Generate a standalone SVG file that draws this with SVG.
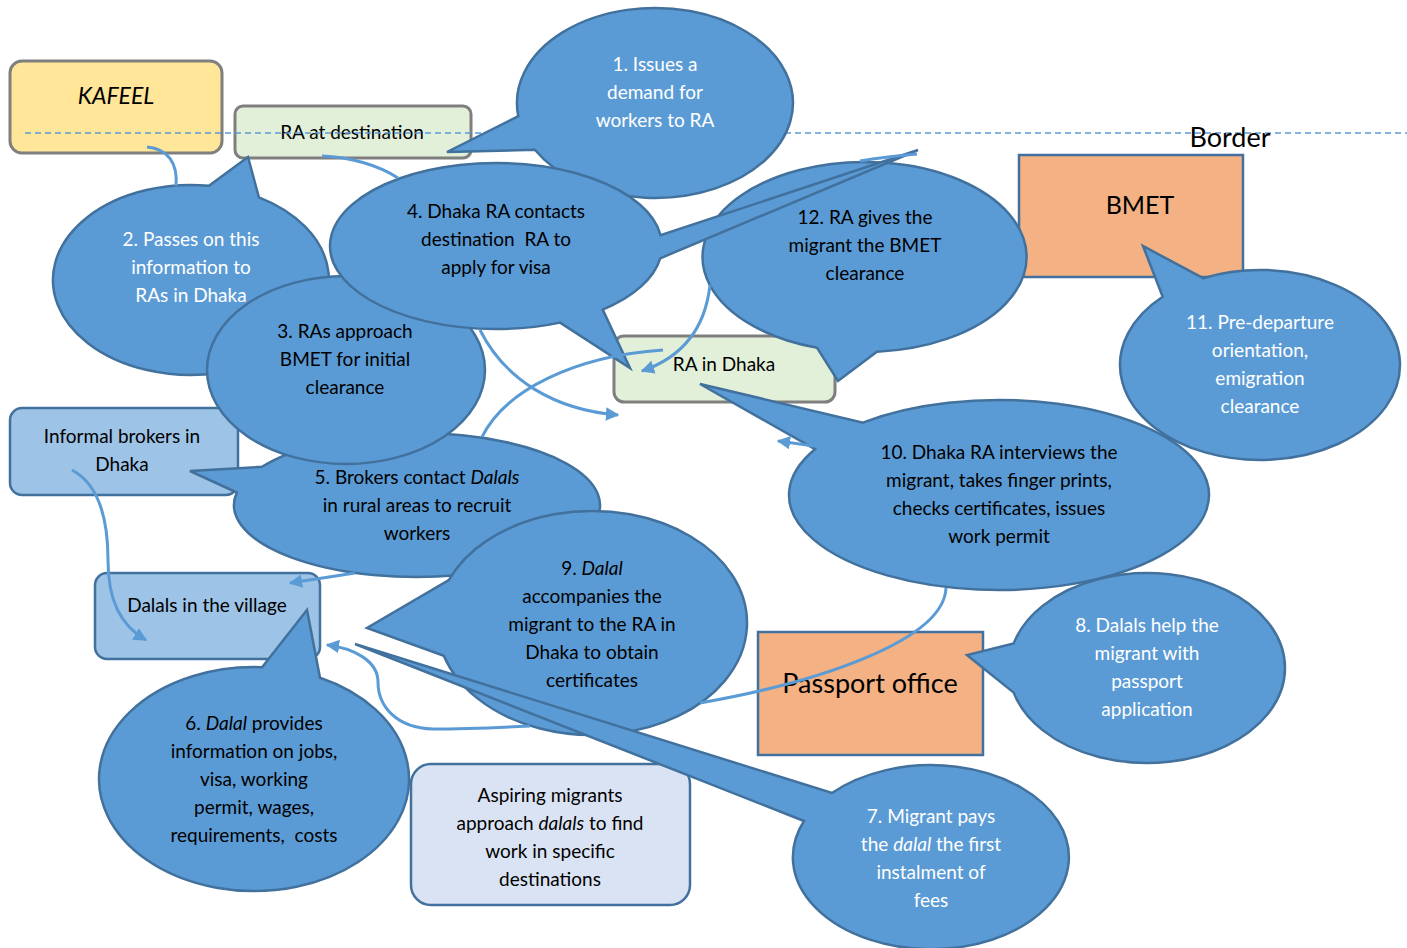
<svg xmlns="http://www.w3.org/2000/svg" width="1407" height="948" viewBox="0 0 1407 948">
<defs>
<style>
.t{font-family:Lato,"Open Sans","Liberation Sans",sans-serif;font-size:19px;text-anchor:middle;fill:#000}
.w{fill:#fff}
.bub{fill:#5b9bd5;stroke:#41719c;stroke-width:2.5;stroke-linejoin:miter}
.gbox{stroke:#7f7f7f;stroke-width:3}
.bbox{stroke:#41719c;stroke-width:2.5}
.con{fill:none;stroke:#5b9bd5;stroke-width:3}
</style>
<marker id="arr" viewBox="0 0 10 10" refX="9" refY="5" markerWidth="4.5" markerHeight="4.5" orient="auto" markerUnits="strokeWidth"><path d="M0,0 L10,5 L0,10 z" fill="#5b9bd5"/></marker>
</defs>
<rect width="1407" height="948" fill="#fff"/>

<g id="kafeel"><rect class="gbox" x="10" y="61" width="212" height="92" rx="12" fill="#ffe699"/><text class="t" x="116" y="104" style="font-size:23px;font-style:italic">KAFEEL</text></g>
<g id="ra-destination"><rect class="gbox" x="235" y="106" width="236" height="52" rx="8" fill="#e2f0d9"/><text class="t" x="352" y="139">RA at destination</text></g>

<g id="border"><line x1="25" y1="133" x2="1407" y2="133" stroke="#5b9bd5" stroke-width="1.5" stroke-dasharray="6,4"/><text class="t" x="1230" y="147" style="font-size:27px">Border</text></g>

<g id="bmet"><rect class="bbox" x="1019" y="155" width="224" height="122" fill="#f4b183"/><text class="t" x="1140" y="214" style="font-size:25px">BMET</text></g>
<g id="passport-office"><rect class="bbox" x="758" y="632" width="225" height="123" fill="#f4b183"/><text class="t" x="870" y="693" style="font-size:27px">Passport office</text></g>
<g id="informal-brokers"><rect class="bbox" x="10" y="408" width="228" height="87" rx="12" fill="#9dc3e6"/><text class="t" x="122" y="443">Informal brokers in</text><text class="t" x="122" y="471">Dhaka</text></g>
<g id="dalals-village"><rect class="bbox" x="95" y="573" width="225" height="86" rx="12" fill="#9dc3e6"/><text class="t" x="207" y="612">Dalals in the village</text></g>
<g id="aspiring"><rect class="bbox" x="411" y="764" width="279" height="141" rx="20" fill="#dae3f3"/><text class="t" x="550" y="802">Aspiring migrants</text><text class="t" x="550" y="830">approach <tspan font-style="italic">dalals</tspan> to find</text><text class="t" x="550" y="858">work in specific</text><text class="t" x="550" y="886">destinations</text></g>
<g id="ra-dhaka"><rect class="gbox" x="614" y="336" width="221" height="66" rx="10" fill="#e2f0d9"/><text class="t" x="724" y="371">RA in Dhaka</text></g>

<g id="step5"><path class="bub" d="M236.8,492.5 L190,471 L262,466.8 A183 72 0 1 1 236.8,492.5 Z"/><text class="t" x="417" y="484">5. Brokers contact <tspan font-style="italic">Dalals</tspan></text><text class="t" x="417" y="512">in rural areas to recruit</text><text class="t" x="417" y="540">workers</text></g>
<g id="step2"><path class="bub" d="M209,185.8 L248,157 L258.9,197.3 A138 95 0 1 1 209,185.8 Z"/><text class="t w" x="191" y="246">2. Passes on this</text><text class="t w" x="191" y="274">information to</text><text class="t w" x="191" y="302">RAs in Dhaka</text></g>
<g id="step3"><ellipse class="bub" cx="346" cy="370" rx="139" ry="94"/><text class="t" x="345" y="338">3. RAs approach</text><text class="t" x="345" y="366">BMET for initial</text><text class="t" x="345" y="394">clearance</text></g>
<g id="step1"><path class="bub" d="M534.9,149.8 L447,152 L518.3,116.2 A138 95 0 1 1 534.9,149.8 Z"/><text class="t w" x="655" y="71">1. Issues a</text><text class="t w" x="655" y="99">demand for</text><text class="t w" x="655" y="127">workers to RA</text></g>
<g id="step12"><path class="bub" d="M876.9,351.7 L838,381 L817.1,347.8 A162 95 0 1 1 876.9,351.7 Z"/><text class="t" x="865" y="224">12. RA gives the</text><text class="t" x="865" y="252">migrant the BMET</text><text class="t" x="865" y="280">clearance</text></g>
<g id="step4"><path class="bub" d="M660.2,258.3 A166 83 0 0 1 602.7,309.6 L630,368 L560.1,322.6 A166 83 0 1 1 660.6,235.2 L918,150 Z"/><text class="t" x="496" y="218">4. Dhaka RA contacts</text><text class="t" x="496" y="246">destination&#160; RA to</text><text class="t" x="496" y="274">apply for visa</text></g>
<g id="step10"><path class="bub" d="M815,449.2 L700,384 L863,422.6 A210 95 0 1 1 815,449.2 Z"/><text class="t" x="999" y="459">10. Dhaka RA interviews the</text><text class="t" x="999" y="487">migrant, takes finger prints,</text><text class="t" x="999" y="515">checks certificates, issues</text><text class="t" x="999" y="543">work permit</text></g>
<g id="step11"><path class="bub" d="M1162.7,296.7 L1143,246 L1203.1,278.2 A140 95 0 1 1 1162.7,296.7 Z"/><text class="t w" x="1260" y="329">11. Pre-departure</text><text class="t w" x="1260" y="357">orientation,</text><text class="t w" x="1260" y="385">emigration</text><text class="t w" x="1260" y="413">clearance</text></g>
<g id="step8"><path class="bub" d="M1013.7,692.6 L967,655 L1013.7,643.4 A138 95 0 1 1 1013.7,692.6 Z"/><text class="t w" x="1147" y="632">8. Dalals help the</text><text class="t w" x="1147" y="660">migrant with</text><text class="t w" x="1147" y="688">passport</text><text class="t w" x="1147" y="716">application</text></g>
<g id="step9"><path class="bub" d="M443.8,655.7 L367,628 L448.8,580.1 A155 112 0 1 1 443.8,655.7 Z"/><text class="t" x="592" y="575">9. <tspan font-style="italic">Dalal</tspan></text><text class="t" x="592" y="603">accompanies the</text><text class="t" x="592" y="631">migrant to the RA in</text><text class="t" x="592" y="659">Dhaka to obtain</text><text class="t" x="592" y="687">certificates</text></g>
<g id="step6"><path class="bub" d="M262.1,667.2 L307,610 L320,677.7 A155 112 0 1 1 262.1,667.2 Z"/><text class="t" x="254" y="730">6. <tspan font-style="italic">Dalal</tspan> provides</text><text class="t" x="254" y="758">information on jobs,</text><text class="t" x="254" y="786">visa, working</text><text class="t" x="254" y="814">permit, wages,</text><text class="t" x="254" y="842">requirements,&#160; costs</text></g>
<g id="step7"><path class="bub" d="M804,821 L355,644 L832,793 A138 92 0 1 1 804,821 Z"/><text class="t w" x="931" y="823">7. Migrant pays</text><text class="t w" x="931" y="851">the <tspan font-style="italic">dalal</tspan> the first</text><text class="t w" x="931" y="879">instalment of</text><text class="t w" x="931" y="907">fees</text></g>

<g id="connectors">
<path class="con" d="M147,147 C168,149 178,163 176,186"/>
<path class="con" d="M322,156 C350,157 378,165 398,178"/>
<path class="con" d="M480,330 C505,380 555,410 618,415" marker-end="url(#arr)"/>
<path class="con" d="M482,437 C505,390 575,356 663,350"/>
<path class="con" d="M917,154 C895,156 878,158 860,161 M710,285 C705,330 680,358 642,371" marker-end="url(#arr)"/>
<path class="con" d="M814,446 L778,441" marker-end="url(#arr)"/>
<path class="con" d="M946,588 C944,640 820,682 700,703 M530,726 C490,728 455,729 433,729 C396,728 378,706 378,682 C378,660 352,648 327,645" marker-end="url(#arr)"/>
<path class="con" d="M72,470 C100,485 108,520 108,560 C108,600 120,625 146,640" marker-end="url(#arr)"/>
<path class="con" d="M355,573 L290,583" marker-end="url(#arr)"/>
</g>
</svg>
